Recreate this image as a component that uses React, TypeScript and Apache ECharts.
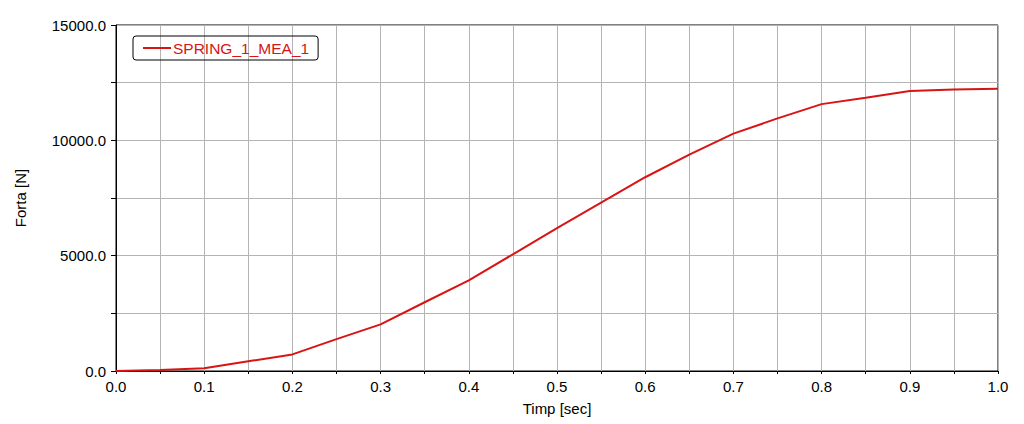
import React, { useEffect, useRef } from "react";
import * as echarts from "echarts";

const timeValues = [0, 0.05, 0.1, 0.15, 0.2, 0.25, 0.3, 0.35, 0.4, 0.45, 0.5, 0.55, 0.6, 0.65, 0.7, 0.75, 0.8, 0.85, 0.9, 0.95, 1.0];
const forceValues = [0, 40, 120, 420, 720, 1380, 2020, 2980, 3930, 5060, 6190, 7300, 8400, 9380, 10290, 10950, 11570, 11850, 12140, 12200, 12240];
const seriesName = "SPRING_1_MEA_1";
const xAxisTitle = "Timp [sec]";
const yAxisTitle = "Forta [N]";

const FONT = "'Liberation Sans', Arial, sans-serif";
const LINE_RED = "#d81414";

export default function App() {
  const ref = useRef<HTMLDivElement>(null);
  useEffect(() => {
    document.body.style.margin = "0";
    const chart = echarts.init(ref.current!, null, { renderer: "svg" });
    const data = timeValues.map((t, i) => [t, forceValues[i]]);
    chart.setOption({
      animation: false,
      backgroundColor: "#ffffff",
      textStyle: { fontFamily: FONT },
      grid: {
        left: 116,
        right: 26,
        top: 25,
        bottom: 53,
        show: true,
        borderColor: "#000",
        borderWidth: 1,
      },
      legend: {
        left: 133,
        top: 36,
        orient: "vertical",
        borderColor: "#000",
        borderWidth: 1,
        borderRadius: 3,
        padding: [4, 9, 4, 10],
        itemWidth: 28,
        itemHeight: 14,
        itemGap: 0,
        textStyle: { color: LINE_RED, fontSize: 15.5, fontFamily: FONT, padding: [0, 0, 0, -3] },
        data: [{ name: seriesName, icon: "path://M0,0 L28,0 L28,2 L0,2 Z" }],
      },
      xAxis: {
        type: "value",
        min: 0,
        max: 1,
        interval: 0.05,
        name: xAxisTitle,
        nameLocation: "middle",
        nameGap: 30,
        nameTextStyle: { color: "#000", fontSize: 15, fontFamily: FONT },
        axisLine: { show: true, lineStyle: { color: "#000", width: 1 } },
        axisTick: { show: true, inside: false, length: 3, lineStyle: { color: "#000" } },
        axisLabel: {
          color: "#000",
          fontSize: 15,
          fontFamily: FONT,
          margin: 8,
          showMinLabel: true,
          showMaxLabel: true,
          formatter: (v: number) => (Math.round(v * 100) % 10 === 0 ? v.toFixed(1) : ""),
        },
        splitLine: { show: true, lineStyle: { color: "#b4b4b4", width: 1 } },
      },
      yAxis: {
        type: "value",
        min: 0,
        max: 15000,
        interval: 2500,
        name: yAxisTitle,
        nameLocation: "middle",
        nameGap: 88,
        nameTextStyle: { color: "#000", fontSize: 15, fontFamily: FONT },
        axisLine: { show: true, lineStyle: { color: "#000", width: 1 } },
        axisTick: { show: true, inside: false, length: 5, lineStyle: { color: "#000" } },
        axisLabel: {
          color: "#000",
          fontSize: 15,
          fontFamily: FONT,
          margin: 10,
          formatter: (v: number) => (Math.round(v) % 5000 === 0 ? v.toFixed(1) : ""),
        },
        splitLine: { show: true, lineStyle: { color: "#b4b4b4", width: 1 } },
      },
      series: [
        {
          name: seriesName,
          type: "line",
          data,
          symbol: "none",
          lineStyle: { color: LINE_RED, width: 2 },
          itemStyle: { color: LINE_RED },
        },
      ],
    });
    return () => chart.dispose();
  }, []);
  return <div ref={ref} style={{ width: 1024, height: 424 }} />;
}
